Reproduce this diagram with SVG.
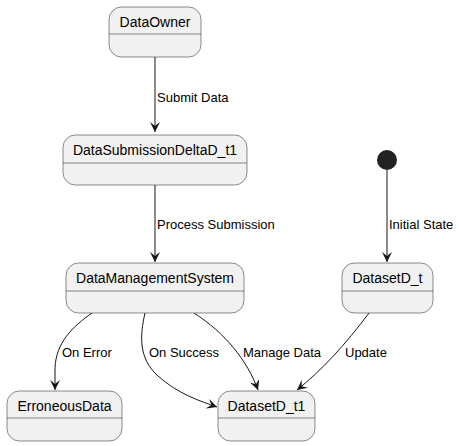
<svg xmlns="http://www.w3.org/2000/svg" width="459" height="446" viewBox="0 0 459 446">
<style>
.box{fill:#F1F1F1;stroke:#181818;stroke-width:0.5}
.div{stroke:#181818;stroke-width:0.5}
.name{font-family:"Liberation Sans",Arial,sans-serif;font-size:14px;fill:#000;text-anchor:middle}
.lbl{font-family:"Liberation Sans",Arial,sans-serif;font-size:13px;fill:#000}
.edge{fill:none;stroke:#181818;stroke-width:1}
</style>
<defs>
<marker id="ah" viewBox="0 0 12 10" refX="10" refY="5" markerWidth="12" markerHeight="10" markerUnits="userSpaceOnUse" orient="auto">
<path d="M0,0 L10,5 L0,10 L4,5 Z" fill="#181818"/>
</marker>
</defs>
<rect width="459" height="446" fill="#FFFFFF"/>
<g id="connectors">
<path class="edge" d="M155,57 L155,132" marker-end="url(#ah)"/>
<path class="edge" d="M155,185 L155,262" marker-end="url(#ah)"/>
<path class="edge" d="M387,170 L387,262" marker-end="url(#ah)"/>
<path class="edge" d="M92,313 C72,327 56,343 55,368 L55,390" marker-end="url(#ah)"/>
<path class="edge" d="M145,313 C140,335 138,358 158,376 C178,394 200,401 217,407" marker-end="url(#ah)"/>
<path class="edge" d="M194,313 C225,333 247,360 258,390" marker-end="url(#ah)"/>
<path class="edge" d="M369,313 C345,345 322,370 297,390" marker-end="url(#ah)"/>
<text class="lbl" x="157" y="102">Submit Data</text>
<text class="lbl" x="157" y="229">Process Submission</text>
<text class="lbl" x="389" y="229">Initial State</text>
<text class="lbl" x="62" y="357">On Error</text>
<text class="lbl" x="149" y="357">On Success</text>
<text class="lbl" x="243" y="357">Manage Data</text>
<text class="lbl" x="345" y="357">Update</text>
</g>
<g id="DataOwner">
<rect class="box" x="109" y="7" width="92" height="50" rx="12.5"/>
<line class="div" x1="109" y1="34" x2="201" y2="34"/>
<text class="name" x="155" y="27">DataOwner</text>
</g>
<g id="DataSubmissionDeltaD_t1">
<rect class="box" x="63" y="135" width="184" height="50" rx="12.5"/>
<line class="div" x1="63" y1="163" x2="247" y2="163"/>
<text class="name" x="155" y="155">DataSubmissionDeltaD_t1</text>
</g>
<g id="DataManagementSystem">
<rect class="box" x="66" y="263" width="178" height="50" rx="12.5"/>
<line class="div" x1="66" y1="291" x2="244" y2="291"/>
<text class="name" x="155" y="283">DataManagementSystem</text>
</g>
<g id="initial">
<circle cx="387" cy="160" r="10" fill="#222222"/>
</g>
<g id="DatasetD_t">
<rect class="box" x="342" y="263" width="91" height="50" rx="12.5"/>
<line class="div" x1="342" y1="291" x2="433" y2="291"/>
<text class="name" x="387.5" y="283">DatasetD_t</text>
</g>
<g id="ErroneousData">
<rect class="box" x="7" y="391" width="115" height="50" rx="12.5"/>
<line class="div" x1="7" y1="418" x2="122" y2="418"/>
<text class="name" x="64.5" y="411">ErroneousData</text>
</g>
<g id="DatasetD_t1">
<rect class="box" x="218" y="391" width="97" height="50" rx="12.5"/>
<line class="div" x1="218" y1="418" x2="315" y2="418"/>
<text class="name" x="266.5" y="411">DatasetD_t1</text>
</g>
</svg>
